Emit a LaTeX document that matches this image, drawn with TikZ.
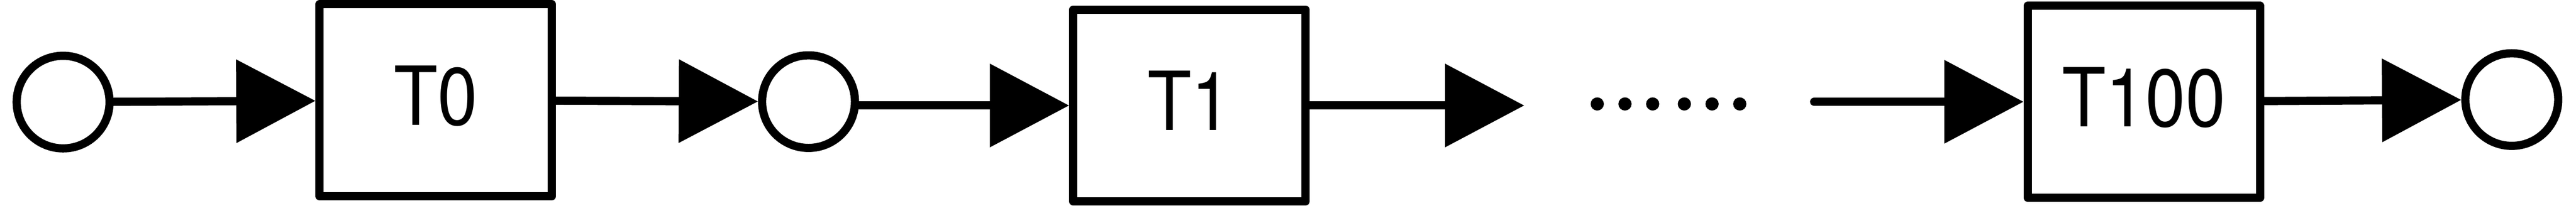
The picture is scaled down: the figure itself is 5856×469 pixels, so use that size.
\documentclass[tikz,border=0pt]{standalone}
\usepackage{fontspec}
\setmainfont{TeX Gyre Heros}[FakeStretch=0.88]
\usetikzlibrary{arrows.meta}

\begin{document}
\begin{tikzpicture}[x=0.01cm,y=0.01cm,yscale=-1,xscale=1,
	line width=5.3pt, line cap=round, line join=round,
	place/.style={circle, draw, minimum size=2.11cm, inner sep=0pt},
	trans/.style={rectangle, draw, minimum width=5.28cm, minimum height=4.37cm, inner sep=0pt, text depth=0.22cm, font=\fontsize{52.8}{60}\selectfont},
	flow/.style={-{Triangle[length=1.8cm,width=1.86cm]}}]
			\useasboundingbox (0,0) rectangle (5856,469);

			%Shape: Circle [id:place0]
			\node [place] (P0) at (143.5,232.7) {};
			%Shape: Rectangle [id:trans0]
			\node [trans] (T0) at (990.6,228.5) {T0};
			%Shape: Circle [id:place1]
			\node [place] (P1) at (1838,231.7) {};
			%Shape: Rectangle [id:trans1]
			\node [trans] (T1) at (2703.8,240.5) {T1};
			\coordinate (gapIn) at (3465,240.5);
			\coordinate (gapOut) at (4124,232);
			%Shape: Rectangle [id:trans100]
			\node [trans] (T100) at (4873.5,232) {T100};
			%Shape: Circle [id:place2]
			\node [place] (P2) at (5710,227) {};

			%Straight Lines [id:arc0]
			\draw [flow] (P0) -- (T0);
			%Straight Lines [id:arc1]
			\draw [flow] (T0) -- (P1);
			%Straight Lines [id:arc2]
			\draw [flow] (P1.east |- T1) -- (T1);
			%Straight Lines [id:arc3]
			\draw [flow] (T1) -- (gapIn);
			%Straight Lines [id:arc4]
			\draw [flow] (gapOut) -- (T100);
			%Straight Lines [id:arc5]
			\draw [flow] (T100) -- (P2);

			%Shape: Dots
			\fill (3631,237) circle (0.15cm) (3694,237) circle (0.15cm) (3757,237) circle (0.15cm)
				(3829,237) circle (0.15cm) (3892,237) circle (0.15cm) (3955,237) circle (0.15cm);

		\end{tikzpicture}
\end{document}
